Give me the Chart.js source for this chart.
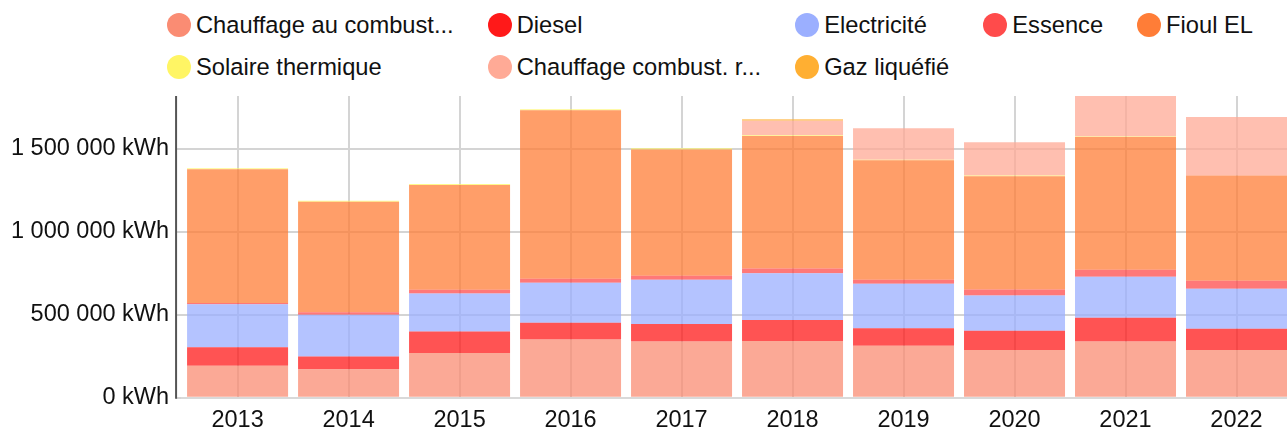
<!DOCTYPE html>
<html>
<head>
<meta charset="utf-8">
<script src="https://cdn.jsdelivr.net/npm/chart.js@4.4.0/dist/chart.umd.min.js"></script>
<style>
  html, body { margin: 0; padding: 0; background: #fff; overflow: hidden; width: 1287px; height: 430px; }
  body { position: relative; font-family: 'Liberation Sans', Arial, sans-serif; }
  #legend { position: absolute; left: 167px; top: 11px; display: grid; grid-template-columns: repeat(5, auto);
            column-gap: 34px; row-gap: 14px; font-size: 23.7px; color: #111; }
  .item { display: flex; align-items: center; height: 28px; white-space: nowrap; }
  .dot { width: 24px; height: 24px; border-radius: 50%; margin-right: 5px; flex: none; }
  #wrap { position: absolute; left: 0; top: 75px; width: 1292px; height: 369px; }
</style>
</head>
<body>
<div id="legend"></div>
<div id="wrap"><canvas id="myChart" width="1292" height="369"></canvas></div>
<script>
const years = ["2013", "2014", "2015", "2016", "2017", "2018", "2019", "2020", "2021", "2022"];

// kWh per year
const chauffageCombust = [193000, 172000, 270000, 351000, 339000, 343000, 314000, 288000, 339000, 288000];
const diesel = [111000, 77000, 130000, 101000, 105000, 126000, 105000, 116000, 144000, 128000];
const electricite = [260000, 251000, 229000, 241000, 268000, 282000, 268000, 213000, 247000, 241000];
const essence = [8000, 16000, 22000, 24000, 24000, 28000, 24000, 35000, 42000, 49000];
const fioulEL = [805000, 665000, 632000, 1016000, 760000, 799000, 720000, 683000, 799000, 633000];
const solaire = [6000, 6000, 6000, 6000, 8000, 4000, 4000, 4000, 4000, 0];
const chauffageRenouv = [0, 0, 0, 0, 0, 87000, 189000, 201000, 243000, 353000];
const gazLiquefie = [0, 0, 0, 0, 0, 10000, 0, 0, 0, 0];

const yTicks = [0, 500000, 1000000, 1500000];

const seriesLabels = ["Chauffage au combust...", "Diesel", "Electricité", "Essence", "Fioul EL",
  "Solaire thermique", "Chauffage combust. r...", "Gaz liquéfié"];
const seriesColors = ["250,140,115", "255,25,25", "155,175,255", "255,75,75", "255,125,55",
  "255,245,100", "255,170,150", "255,175,50"];
const series = [chauffageCombust, diesel, electricite, essence, fioulEL, solaire, chauffageRenouv, gazLiquefie];

Chart.defaults.font.family = "'Liberation Sans', Arial, sans-serif";

const datasets = series.map((data, i) => ({
  label: seriesLabels[i],
  data: data,
  backgroundColor: `rgba(${seriesColors[i]}, 0.75)`,
  borderWidth: 0
}));

// top of the axis = highest stacked year
const totals = years.map((_, j) => series.reduce((s, d) => s + d[j], 0));
const yMax = Math.max(...totals);

function fmt(v) {
  return String(v).replace(/\B(?=(\d{3})+(?!\d))/g, " ") + " kWh";
}

// html legend
const legend = document.getElementById("legend");
seriesLabels.forEach((lbl, i) => {
  const item = document.createElement("div");
  item.className = "item";
  const dot = document.createElement("span");
  dot.className = "dot";
  dot.style.background = `rgb(${seriesColors[i]})`;
  const txt = document.createElement("span");
  txt.textContent = lbl;
  item.appendChild(dot);
  item.appendChild(txt);
  legend.appendChild(item);
});

// dark y axis line, a little left of the plot
const axisLine = {
  id: "axisLine",
  afterDatasetsDraw(chart) {
    const { ctx, chartArea } = chart;
    ctx.save();
    ctx.strokeStyle = "#555";
    ctx.lineWidth = 2;
    ctx.beginPath();
    ctx.moveTo(chartArea.left - 6, chartArea.top);
    ctx.lineTo(chartArea.left - 6, chartArea.bottom + 1);
    ctx.stroke();
    ctx.restore();
  }
};

const config = {
  type: "bar",
  data: { labels: years, datasets: datasets },
  plugins: [axisLine],
  options: {
    responsive: false,
    animation: false,
    devicePixelRatio: 1,
    layout: { padding: { left: 4, top: 0, right: 0, bottom: 0 } },
    plugins: {
      legend: { display: false },
      tooltip: { enabled: false }
    },
    datasets: { bar: { categoryPercentage: 1, barPercentage: 0.91 } },
    scales: {
      x: {
        stacked: true,
        grid: { offset: false, color: "#d4d4d4", lineWidth: 2, drawTicks: false },
        border: { color: "#d9d9d9", width: 2 },
        ticks: { color: "#111", font: { size: 23.5 }, padding: 9 }
      },
      y: {
        stacked: true,
        min: 0,
        max: yMax,
        grid: { color: "#d4d4d4", lineWidth: 2, tickLength: 6 },
        border: { display: false },
        afterBuildTicks: (scale) => {
          scale.ticks = yTicks.map(v => ({ value: v }));
        },
        ticks: { padding: 7, color: "#111", font: { size: 23.5 }, callback: fmt }
      }
    }
  }
};

const myChart = new Chart(document.getElementById("myChart"), config);
</script>
</body>
</html>
